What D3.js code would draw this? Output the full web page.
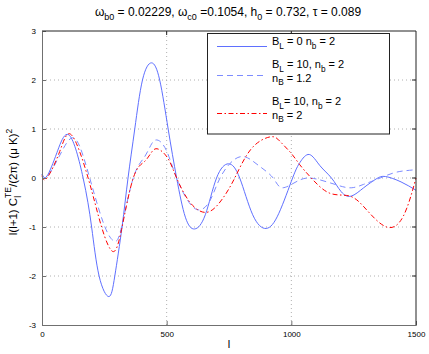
<!DOCTYPE html>
<html>
<head>
<meta charset="utf-8">
<script src="https://cdn.jsdelivr.net/npm/d3@7"></script>
<style>
  body { margin: 0; background: #fff; }
  svg { font-family: "Liberation Sans", Arial, sans-serif; }
</style>
</head>
<body>
<svg id="chart" width="429" height="354"></svg>
<script>
// values (multipole l and l(l+1)C_l^TE/2pi)
const blueL = [0, 20, 60, 110, 165, 199, 229, 268, 292, 321, 345, 372, 403, 439, 472, 506, 540, 575, 612, 655, 700, 748, 793, 845, 899, 950, 1005, 1035, 1072, 1115, 1161, 1200, 1240, 1290, 1340, 1378, 1440, 1500];
const blueV = [0.08, 0.04, 0.52, 0.87, 0, -1, -2, -2.42, -2, -1, 0, 1, 2, 2.35, 2, 1, 0, -0.8, -1.04, -0.75, 0, 0.29, 0, -0.75, -1.03, -0.72, 0, 0.32, 0.48, 0.25, 0, -0.28, -0.37, -0.2, -0.02, 0.03, -0.08, -0.25];

const dashL = [0, 20, 70, 126, 180, 245, 290, 319, 366, 410, 440, 466, 500, 540, 590, 634, 675, 714, 765, 815, 870, 927, 965, 1034, 1100, 1181, 1240, 1290, 1342, 1408, 1460, 1500];
const dashV = [0.08, 0.03, 0.45, 0.82, 0.2, -0.9, -1.29, -1, 0, 0.42, 0.7, 0.77, 0.55, 0, -0.5, -0.65, -0.45, 0, 0.35, 0.43, 0.25, 0, -0.2, -0.04, -0.02, -0.14, -0.2, -0.13, -0.03, 0.1, 0.15, 0.17];

const redL = [0, 20, 71, 118, 185, 239, 284, 319, 366, 410, 440, 466, 505, 540, 594, 661, 720, 773, 840, 916, 954, 1000, 1034, 1080, 1154, 1235, 1302, 1382, 1449, 1500];
const redV = [0.05, 0, 0.54, 0.88, 0, -1, -1.5, -1.05, 0, 0.33, 0.53, 0.59, 0.4, 0, -0.5, -0.7, -0.45, 0, 0.6, 0.84, 0.75, 0.5, 0.27, 0, -0.31, -0.37, -0.65, -1.0, -0.78, 0];

const xTicks = [0, 500, 1000, 1500];
const yTicks = [-3, -2, -1, 0, 1, 2, 3];

const title = "ω_{b0} = 0.02229, ω_{c0} =0.1054, h_{0} = 0.732, τ = 0.089";
const legendRows = [
  { lines: ["B_{L} = 0 n_{b} = 2"], color: "#5f70ff", dash: null },
  { lines: ["B_{L} = 10, n_{b} = 2", "n_{B} = 1.2"], color: "#7d8cff", dash: "6,4" },
  { lines: ["B_{L}= 10, n_{b} = 2", "n_{B} = 2"], color: "#ff0000", dash: "5,2.5,1.5,2.5" }
];

const svg = d3.select("#chart");
const margin = { left: 42, right: 13, top: 31, bottom: 29 };
const W = 429, H = 354;

const x = d3.scaleLinear().domain([0, 1500]).range([margin.left, W - margin.right]);
const y = d3.scaleLinear().domain([-3, 3]).range([H - margin.bottom, margin.top]);

// little parser for _{..} and ^{..}
function rich(text, str, size) {
  const re = /([_^])\{([^}]*)\}/g;
  let last = 0, m, shift = 0;
  const add = (s, dy, fs) => {
    text.append("tspan").attr("dy", dy).attr("font-size", fs).text(s);
  };
  while ((m = re.exec(str)) !== null) {
    if (m.index > last) { add(str.slice(last, m.index), -shift, size); shift = 0; }
    const d = m[1] === "_" ? size * 0.35 : -size * 0.45;
    add(m[2], d - shift, size * 0.75);
    shift = d;
    last = re.lastIndex;
  }
  if (last < str.length) add(str.slice(last), -shift, size);
}

// grid
svg.append("g").selectAll("line")
  .data(yTicks.filter(d => d > -3 && d < 3))
  .join("line")
  .attr("x1", x(0)).attr("x2", x(1500))
  .attr("y1", d => y(d)).attr("y2", d => y(d))
  .attr("stroke", "#b0b0b0").attr("stroke-dasharray", "1,3");
svg.append("g").selectAll("line")
  .data(xTicks.filter(d => d > 0 && d < 1500))
  .join("line")
  .attr("y1", y(-3)).attr("y2", y(3))
  .attr("x1", d => x(d)).attr("x2", d => x(d))
  .attr("stroke", "#b0b0b0").attr("stroke-dasharray", "1,3");

// curves
const line = d3.line().x(d => x(d[0])).y(d => y(d[1])).curve(d3.curveNatural);
const series = [
  { L: blueL, V: blueV, style: legendRows[0] },
  { L: dashL, V: dashV, style: legendRows[1] },
  { L: redL, V: redV, style: legendRows[2] }
];
svg.append("g").selectAll("path")
  .data(series)
  .join("path")
  .attr("d", s => line(s.L.map((l, i) => [l, s.V[i]])))
  .attr("fill", "none")
  .attr("stroke", s => s.style.color)
  .attr("stroke-width", 1)
  .attr("stroke-dasharray", s => s.style.dash);

// axes (ticks inward, like matlab)
const xAxis = d3.axisBottom(x).tickValues(xTicks).tickSize(-4).tickPadding(6).tickFormat(d => String(d));
const yAxis = d3.axisLeft(y).tickValues(yTicks).tickSize(-4).tickPadding(6).tickFormat(d => String(d));
const gx = svg.append("g").attr("transform", `translate(0,${y(-3)})`).call(xAxis);
const gy = svg.append("g").attr("transform", `translate(${x(0)},0)`).call(yAxis);
[gx, gy].forEach(g => {
  g.select(".domain").attr("stroke", "#707070");
  g.selectAll(".tick line").attr("stroke", "#707070");
  g.selectAll("text").attr("font-size", 8).attr("font-family", "Liberation Sans, Arial, sans-serif").attr("fill", "#000");
});
gx.selectAll(".tick:first-child line, .tick:last-child line").remove();
gy.selectAll(".tick:first-child line, .tick:last-child line").remove();
// right / top ticks
svg.append("g").selectAll("line").data(yTicks.slice(1, -1)).join("line")
  .attr("x1", x(1500)).attr("x2", x(1500) - 4).attr("y1", d => y(d)).attr("y2", d => y(d)).attr("stroke", "#222");
svg.append("g").selectAll("line").data(xTicks.slice(1, -1)).join("line")
  .attr("y1", y(3)).attr("y2", y(3) + 4).attr("x1", d => x(d)).attr("x2", d => x(d)).attr("stroke", "#222");
svg.append("path")
  .attr("d", `M${x(0)},${y(3)}H${x(1500)}V${y(-3)}`)
  .attr("fill", "none").attr("stroke", "#222");

// title
rich(svg.append("text").attr("x", 228).attr("y", 16).attr("text-anchor", "middle"), title, 12);

// axis labels
rich(svg.append("text").attr("x", x(750)).attr("y", 348).attr("text-anchor", "middle"), "l", 11);
const yl = svg.append("text")
  .attr("transform", `translate(17,${y(0) + 4}) rotate(-90)`)
  .attr("text-anchor", "middle").attr("font-size", 11.5);
yl.append("tspan").text("l(l+1) C");
yl.append("tspan").attr("font-size", 8.5).attr("dy", 4).text("l");
yl.append("tspan").attr("font-size", 8.5).attr("dy", -10).attr("dx", -2).text("TE");
yl.append("tspan").attr("dy", 6).text("/(2π) (μ K)");
yl.append("tspan").attr("font-size", 8.5).attr("dy", -5).text("2");

// legend
const lg = svg.append("g");
lg.append("rect")
  .attr("x", 207.5).attr("y", 33.5).attr("width", 182).attr("height", 100.5)
  .attr("fill", "#fff").attr("stroke", "#222");
const rowY = [46.5, 75.5, 113.5];
const textY = [[45], [68, 81.5], [105, 118.5]];
legendRows.forEach((r, i) => {
  lg.append("line")
    .attr("x1", 217).attr("x2", 267).attr("y1", rowY[i]).attr("y2", rowY[i])
    .attr("stroke", r.color).attr("stroke-dasharray", r.dash);
  r.lines.forEach((t, j) => {
    rich(lg.append("text").attr("x", 272).attr("y", textY[i][j]), t, 11);
  });
});
</script>
</body>
</html>
